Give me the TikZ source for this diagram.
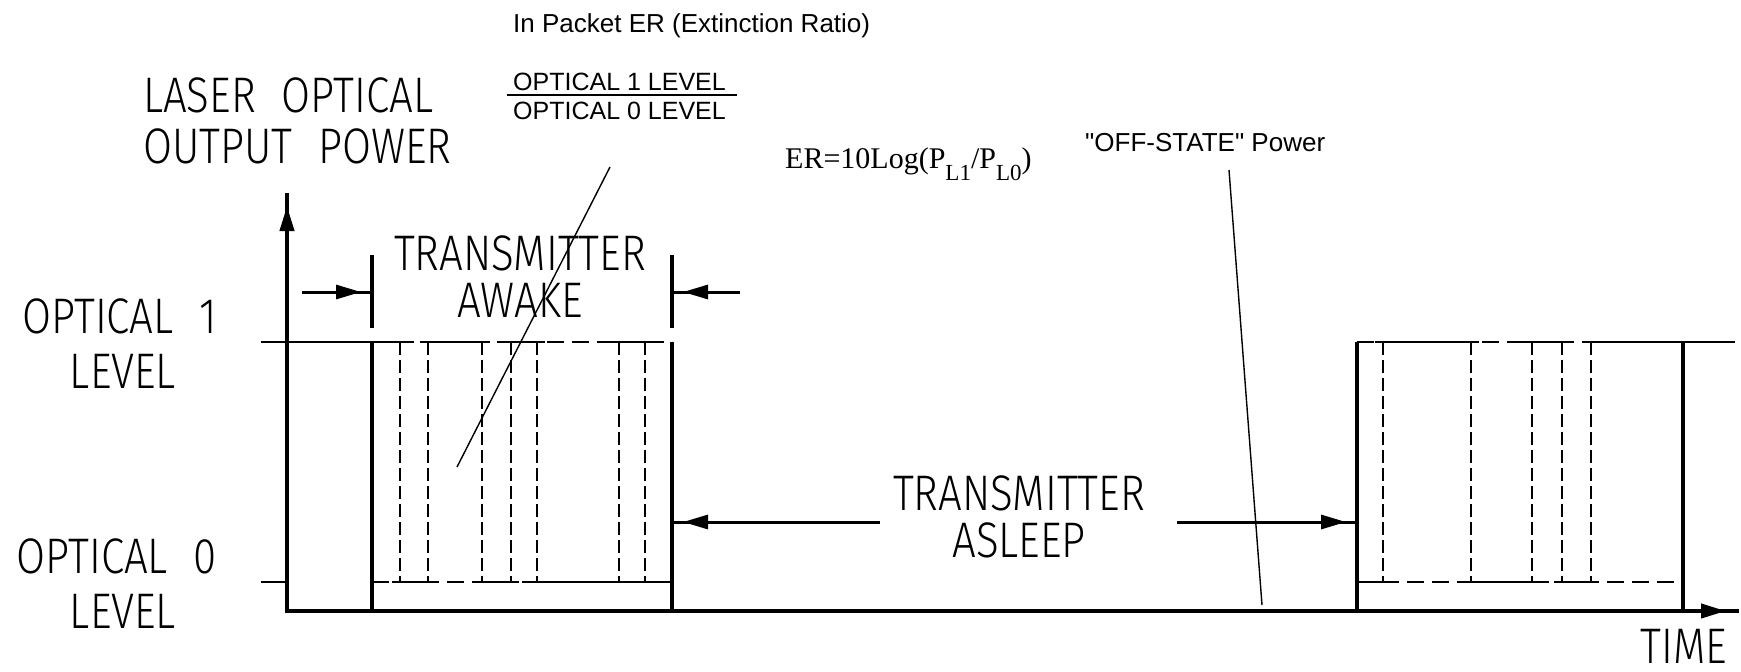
\documentclass[tikz,border=0pt]{standalone}
\usepackage{fontspec}
\setmainfont{Liberation Sans}
\newfontfamily\cadfont[FakeStretch=0.84,WordSpace=2.2]{Fira Sans Light}
\newfontfamily\uifont{Liberation Sans}
\newfontfamily\serifont{Liberation Serif}
\usetikzlibrary{arrows.meta,decorations.markings}
\tikzset{
  cad/.style={font=\cadfont\fontsize{50}{50}\selectfont, inner sep=0pt},
  ui/.style={font=\uifont\fontsize{25}{25}\selectfont, inner sep=0pt},
  heavy/.style={line width=4pt},
  dimline/.style={line width=3pt},
  thinline/.style={line width=1.8pt},
  leader/.style={line width=1.4pt},
  dashv/.style={line width=1.8pt, dash pattern=on 13pt off 5pt},
  dashh/.style={line width=1.8pt, dash pattern=on 17pt off 8pt},
  blob/.style={postaction={decorate},
    decoration={markings, mark=at position -11pt with {\arrow{Triangle[length=25pt,width=14pt]}}}},
}
\begin{document}
\begin{tikzpicture}[x=1pt,y=-1pt]
\fill[white] (0,0) rectangle (1741,672);
\useasboundingbox (0,0) rectangle (1741,672);

% ---------- coordinates ----------
\coordinate (O) at (287,611);
\coordinate (ytop) at (287,195);
\coordinate (xend) at (1737,611);
\coordinate (l1a) at (261,342);
\coordinate (l1b) at (372,342);
\coordinate (l0a) at (261,582);
\coordinate (l0b) at (287,582);
\coordinate (l1c) at (1683,342);
\coordinate (l1d) at (1735,342);

% ---------- axes ----------
\draw[heavy, line cap=rect, blob] (O) -- (ytop);
\draw[heavy, line cap=rect, blob] (O) -- (xend);

% ---------- level lines ----------
\draw[thinline] (l1a) -- (l1b);
\draw[thinline] (l0a) -- (l0b);
\draw[thinline] (l1c) -- (l1d);

% ---------- awake burst ----------
\draw[dashh] (372,342) -- (672,342);
\draw[dashh] (372,582) -- (672,582);
\foreach \a/\b in {372/408, 420/490, 503/545, 611/653}
  \draw[thinline] (\a,342) -- (\b,342);
\foreach \a/\b in {392/436, 474/519, 529/627, 637/672}
  \draw[thinline] (\a,582) -- (\b,582);
\foreach \x in {400,428,482,511,537,619,645}
  \draw[dashv] (\x,342) -- (\x,582);
\draw[heavy] (372,342) -- (372,611);
\draw[heavy] (672,342) -- (672,611);

% ---------- second burst ----------
\draw[dashh] (1357,342) -- (1683,342);
\draw[dashh] (1357,582) -- (1683,582);
\foreach \a/\b in {1375/1479, 1524/1570, 1583/1683}
  \draw[thinline] (\a,342) -- (\b,342);
\foreach \a/\b in {1357/1391, 1463/1540, 1554/1599}
  \draw[thinline] (\a,582) -- (\b,582);
\foreach \x in {1383,1471,1532,1562,1591}
  \draw[dashv] (\x,342) -- (\x,582);
\draw[heavy] (1357,342) -- (1357,611);
\draw[heavy] (1683,342) -- (1683,611);

% ---------- dimension marks ----------
\coordinate (tkLa) at (372,255); \coordinate (tkLb) at (372,328);
\coordinate (tkRa) at (672,255); \coordinate (tkRb) at (672,328);
\draw[line width=3.5pt] (tkLa) -- (tkLb);
\draw[line width=3.5pt] (tkRa) -- (tkRb);

\coordinate (awLs) at (302,292); \coordinate (awLe) at (372,292);
\coordinate (awRs) at (740,292); \coordinate (awRe) at (672,292);
\draw[dimline, blob] (awLs) -- (awLe);
\draw[dimline, blob] (awRs) -- (awRe);

\coordinate (asLs) at (880,522); \coordinate (asLe) at (672,522);
\coordinate (asRs) at (1177,522); \coordinate (asRe) at (1357,522);
\draw[dimline, blob] (asLs) -- (asLe);
\draw[dimline, blob] (asRs) -- (asRe);

% ---------- labels ----------
\node[cad, anchor=base west] (laser) at (143,112) {LASER OPTICAL};
\node[cad, anchor=base west] (outpw) at (143,163) {OUTPUT POWER};
\node[cad, anchor=base east] (opt1) at (217,333) {OPTICAL 1};
\node[cad, anchor=base] (lev1) at (123,388) {LEVEL};
\node[cad, anchor=base east] (opt0) at (217,573) {OPTICAL 0};
\node[cad, anchor=base] (lev0) at (123,628) {LEVEL};
\node[cad, anchor=base] (txa) at (520,270) {TRANSMITTER};
\node[cad, anchor=base] (awake) at (520,317) {AWAKE};
\node[cad, anchor=base] (txs) at (1019,510) {TRANSMITTER};
\node[cad, anchor=base] (asleep) at (1019,557) {ASLEEP};
\node[cad, anchor=base] (time) at (1684,663) {TIME};

\node[ui, anchor=base west, font=\uifont\fontsize{26}{26}\selectfont] (inpkt) at (513,32) {In Packet ER (Extinction Ratio)};
\node[ui, anchor=base west] (num) at (513,90) {OPTICAL 1 LEVEL};
\node[ui, anchor=base west] (den) at (513,119) {OPTICAL 0 LEVEL};
\coordinate (fra) at (507,95); \coordinate (frb) at (737,95);
\draw[thinline] (fra) -- (frb);
\node[ui, anchor=base west, font=\uifont\fontsize{26}{26}\selectfont] (off) at (1085,151) {"OFF-STATE" Power};
\node[anchor=base west, inner sep=0pt, font=\serifont\fontsize{30}{30}\selectfont] (er) at (785,168)
  {ER=10Log(P\raisebox{-12pt}{\fontsize{23}{23}\selectfont L1}/P\raisebox{-12pt}{\fontsize{23}{23}\selectfont L0})};

% ---------- leaders ----------
\coordinate (ldAa) at (610,167); \coordinate (ldAb) at (457,467);
\coordinate (ldBa) at (1229,170); \coordinate (ldBb) at (1262,605);
\draw[leader] (ldAa) -- (ldAb);
\draw[leader] (ldBa) -- (ldBb);
\end{tikzpicture}
\end{document}
